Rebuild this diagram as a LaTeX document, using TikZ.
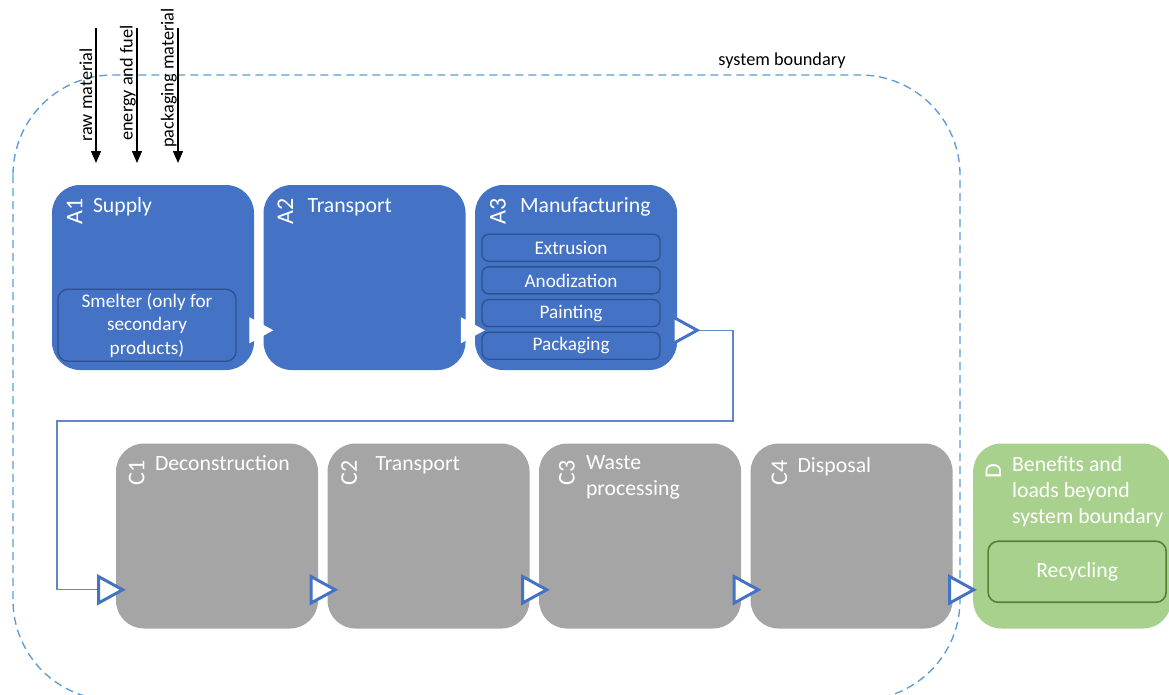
\documentclass[tikz,border=0pt]{standalone}
\usepackage{fontspec}
\setmainfont{Carlito}
\usetikzlibrary{arrows.meta,positioning,calc}

\definecolor{ablue}{HTML}{4472C4}
\definecolor{subline}{HTML}{2F528F}
\definecolor{cgrey}{HTML}{A5A5A5}
\definecolor{dgreen}{HTML}{A9D18E}
\definecolor{dline}{HTML}{548235}
\definecolor{bound}{HTML}{5B9BD5}

\newcommand{\smallfnt}{\fontsize{13.7}{16}\selectfont}
\newcommand{\subfnt}{\fontsize{14.4}{17.6}\selectfont}
\newcommand{\titlefnt}{\fontsize{16.3}{19.5}\selectfont}
\newcommand{\codefnt}{\fontsize{18}{20}\selectfont}

\begin{document}
\begin{tikzpicture}[x=0.75pt, y=-0.75pt, node distance=6.75pt,
  stage/.style={rounded corners=21pt, minimum width=151.5pt, minimum height=138.75pt, inner sep=0pt},
  astage/.style={stage, fill=ablue},
  cstage/.style={stage, fill=cgrey},
  dstage/.style={stage, fill=dgreen, minimum width=148.5pt},
  code/.style={rotate=90, anchor=east, inner sep=0pt, text=white, font=\codefnt},
  title/.style={anchor=base west, inner sep=0pt, text=white, font=\titlefnt, align=left},
  substep/.style={draw=subline, fill=ablue, line width=1pt, rounded corners=5pt, minimum width=133.5pt, minimum height=20.25pt, inner sep=0pt, text=white, font=\subfnt},
  input/.style={rotate=90, anchor=base west, inner sep=0pt, font=\smallfnt},
  inflow/.style={draw=black, line width=1pt, -{Triangle[length=9pt, width=7.5pt]}},
  pass/.style={draw=white, line width=0.8pt, -{Triangle[length=18pt, width=19.5pt, fill=white]}},
  handover/.style={draw=ablue, line width=2.2pt, -{Triangle[length=21.5pt, width=23pt, fill=white]}},
  feed/.style={draw=ablue!85, line width=0.9pt},
  boundary/.style={draw=bound, line width=1pt, dash pattern=on 6pt off 3.75pt, rounded corners=75pt}
]
\clip[use as bounding box] (0,0) rectangle (1169,694);

% system boundary
\draw[boundary] (13,75) rectangle (960,700);
\node[anchor=base, inner sep=0pt, font=\smallfnt] (bndlbl) at (782,65) {system boundary};

% product stage
\node[astage] (A1) at (153,277.5) {};
\node[astage, right=of A1] (A2) {};
\node[astage, right=of A2] (A3) {};

\node[code] (A1code) at ($(A1.north west)+(23,13)$) {A1};
\node[title] (A1title) at ($(A1.north west)+(41,28)$) {Supply};
\node[code] (A2code) at ($(A2.north west)+(22,13)$) {A2};
\node[title] (A2title) at ($(A2.north west)+(44,28)$) {Transport};
\node[code] (A3code) at ($(A3.north west)+(23,13)$) {A3};
\node[title] (A3title) at ($(A3.north west)+(45,28)$) {Manufacturing};

\node[substep, minimum height=54pt, rounded corners=7.5pt, align=center] (smelter) at ($(A1.south)+(-6,-45)$) {Smelter (only for\\secondary\\products)};

\node[substep] (extr) at ($(A3.north)+(-5,63)$) {Extrusion};
\node[substep, below=3.25pt of extr] (anod) {Anodization};
\node[substep, below=3.25pt of anod] (paint) {Painting};
\node[substep, below=3.25pt of paint] (pack) {Packaging};

% inputs
\coordinate (rawtop) at (96,28);
\coordinate (rawend) at (96,163);
\coordinate (fueltop) at (137,28);
\coordinate (fuelend) at (137,163);
\coordinate (packtop) at (178,28);
\coordinate (packend) at (178,163);
\draw[inflow] (rawtop) -- (rawend);
\draw[inflow] (fueltop) -- (fuelend);
\draw[inflow] (packtop) -- (packend);
\node[input] (rawlbl) at (92,142) {raw material};
\node[input] (fuellbl) at (132.5,141) {energy and fuel};
\node[input] (packlbl) at (173.5,148) {packaging material};

% end of life stage
\node[cstage] (C1) at (217,536) {};
\node[cstage, right=of C1] (C2) {};
\node[cstage, right=of C2] (C3) {};
\node[cstage, right=of C3] (C4) {};
\node[dstage, right=15pt of C4] (D) {};

\node[code] (C1code) at ($(C1.north west)+(21,17)$) {C1};
\node[title] (C1title) at ($(C1.north west)+(39,27)$) {Deconstruction};
\node[code] (C2code) at ($(C2.north west)+(22,17)$) {C2};
\node[title] (C2title) at ($(C2.north west)+(48,27)$) {Transport};
\node[code] (C3code) at ($(C3.north west)+(28,17)$) {C3};
\node[title] (C3title) at ($(C3.north west)+(47,52)$) {Waste\\processing};
\node[code] (C4code) at ($(C4.north west)+(29,17)$) {C4};
\node[title] (C4title) at ($(C4.north west)+(47,29)$) {Disposal};
\node[code] (Dcode) at ($(D.north west)+(20.5,20)$) {D};
\node[title] (Dtitle) at ($(D.north west)+(39,80)$) {Benefits and\\loads beyond\\system boundary};

\node[substep, draw=dline, fill=dgreen, minimum height=45.75pt, rounded corners=7.5pt, line width=1.2pt, font=\titlefnt] (recyc) at ($(D.south)+(5,-57)$) {Recycling};

% flow
\draw[pass] ($(A1.south east)+(0,-40)$) -- ($(A2.south west)+(10,-40)$);
\draw[pass] ($(A2.south east)+(0,-40)$) -- ($(A3.south west)+(10,-40)$);
\coordinate (A3out) at ($(A3.south east)+(23,-40)$);
\draw[handover] ($(A3.south east)+(4,-40)$) -- (A3out);
\coordinate (bendR) at (733,421);
\coordinate (bendL) at (57,421);
\coordinate (C1in) at ($(C1.south west)+(-19,-39)$);
\draw[feed] (A3out) -| (bendR) -- (bendL) |- (C1in);
\draw[handover] (C1in) -- ($(C1.south west)+(10,-39)$);
\draw[handover] ($(C1.south east)+(0,-39)$) -- ($(C2.south west)+(11,-39)$);
\draw[handover] ($(C2.south east)+(0,-39)$) -- ($(C3.south west)+(11,-39)$);
\draw[handover] ($(C3.south east)+(0,-39)$) -- ($(C4.south west)+(11,-39)$);
\draw[handover] ($(C4.south east)+(4,-39)$) -- ($(D.south west)+(4,-39)$);
\end{tikzpicture}
\end{document}
